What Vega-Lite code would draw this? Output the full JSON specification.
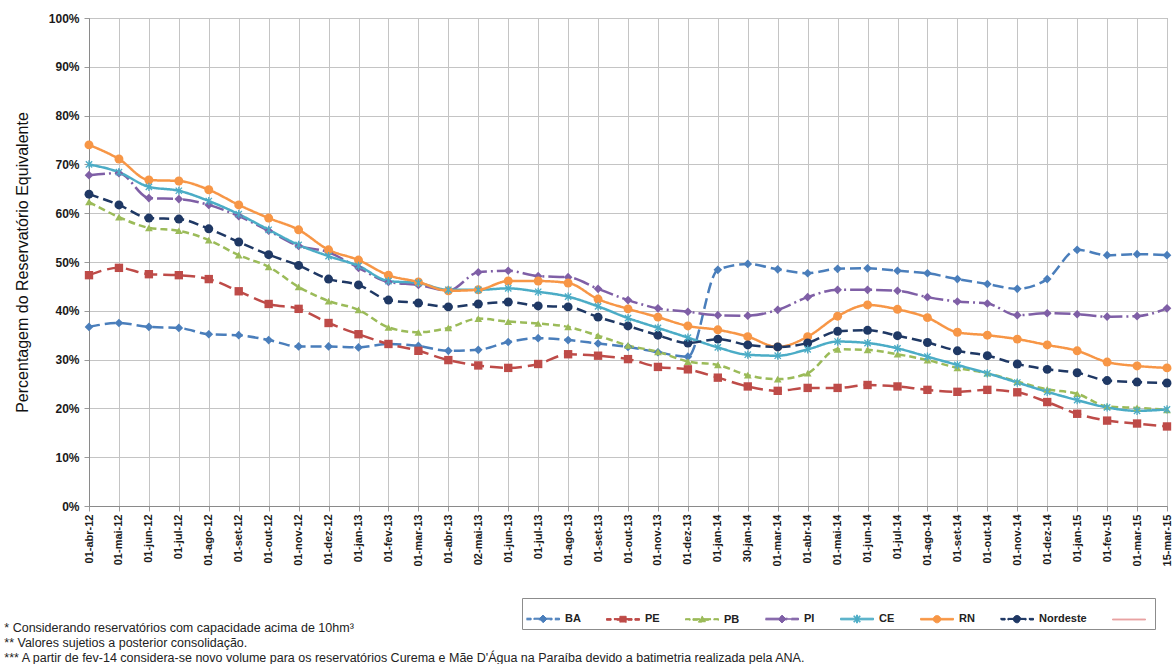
{
  "$schema": "https://vega.github.io/schema/vega-lite/v6.json",
  "width": 1078,
  "height": 488,
  "autosize": {"type": "none"},
  "padding": {"left": 89, "top": 18, "right": 8, "bottom": 158},
  "background": "white",
  "config": {
    "font": "Liberation Sans",
    "view": {"stroke": "#9a9a9a", "strokeWidth": 1}
  },
  "title": {
    "text": [
      "* Considerando reservatórios com capacidade acima de 10hm³",
      "** Valores sujetios a posterior consolidação.",
      "*** A partir de  fev-14 considera-se novo  volume para os reservatórios Curema e Mãe D'Água na Paraíba devido a batimetria realizada pela ANA."
    ],
    "orient": "bottom",
    "anchor": "start",
    "fontSize": 12.5,
    "fontWeight": "normal",
    "lineHeight": 15,
    "color": "#222222",
    "offset": -8,
    "dx": -10
  },
  "data": {
    "values": [
      {"d":"01-abr-12","s":"BA","v":36.7},{"d":"01-mai-12","s":"BA","v":37.5},{"d":"01-jun-12","s":"BA","v":36.7},{"d":"01-jul-12","s":"BA","v":36.5},{"d":"01-ago-12","s":"BA","v":35.2},{"d":"01-set-12","s":"BA","v":35.0},{"d":"01-out-12","s":"BA","v":34.0},{"d":"01-nov-12","s":"BA","v":32.7},{"d":"01-dez-12","s":"BA","v":32.7},{"d":"01-jan-13","s":"BA","v":32.5},{"d":"01-fev-13","s":"BA","v":33.2},{"d":"01-mar-13","s":"BA","v":32.8},{"d":"01-abr-13","s":"BA","v":31.8},{"d":"02-mai-13","s":"BA","v":32.0},{"d":"01-jun-13","s":"BA","v":33.6},{"d":"01-jul-13","s":"BA","v":34.4},{"d":"01-ago-13","s":"BA","v":34.0},{"d":"01-set-13","s":"BA","v":33.3},{"d":"01-out-13","s":"BA","v":32.6},{"d":"01-nov-13","s":"BA","v":31.5},{"d":"01-dez-13","s":"BA","v":30.6},{"d":"01-jan-14","s":"BA","v":48.4},{"d":"30-jan-14","s":"BA","v":49.6},{"d":"01-mar-14","s":"BA","v":48.5},{"d":"01-abr-14","s":"BA","v":47.7},{"d":"01-mai-14","s":"BA","v":48.6},{"d":"01-jun-14","s":"BA","v":48.7},{"d":"01-jul-14","s":"BA","v":48.2},{"d":"01-ago-14","s":"BA","v":47.7},{"d":"01-set-14","s":"BA","v":46.5},{"d":"01-out-14","s":"BA","v":45.5},{"d":"01-nov-14","s":"BA","v":44.5},{"d":"01-dez-14","s":"BA","v":46.5},{"d":"01-jan-15","s":"BA","v":52.5},{"d":"01-fev-15","s":"BA","v":51.4},{"d":"01-mar-15","s":"BA","v":51.6},{"d":"15-mar-15","s":"BA","v":51.4},
      {"d":"01-abr-12","s":"PE","v":47.3},{"d":"01-mai-12","s":"PE","v":48.8},{"d":"01-jun-12","s":"PE","v":47.5},{"d":"01-jul-12","s":"PE","v":47.3},{"d":"01-ago-12","s":"PE","v":46.5},{"d":"01-set-12","s":"PE","v":44.0},{"d":"01-out-12","s":"PE","v":41.4},{"d":"01-nov-12","s":"PE","v":40.4},{"d":"01-dez-12","s":"PE","v":37.5},{"d":"01-jan-13","s":"PE","v":35.2},{"d":"01-fev-13","s":"PE","v":33.2},{"d":"01-mar-13","s":"PE","v":31.8},{"d":"01-abr-13","s":"PE","v":29.9},{"d":"02-mai-13","s":"PE","v":28.8},{"d":"01-jun-13","s":"PE","v":28.3},{"d":"01-jul-13","s":"PE","v":29.1},{"d":"01-ago-13","s":"PE","v":31.1},{"d":"01-set-13","s":"PE","v":30.8},{"d":"01-out-13","s":"PE","v":30.1},{"d":"01-nov-13","s":"PE","v":28.5},{"d":"01-dez-13","s":"PE","v":28.0},{"d":"01-jan-14","s":"PE","v":26.3},{"d":"30-jan-14","s":"PE","v":24.5},{"d":"01-mar-14","s":"PE","v":23.6},{"d":"01-abr-14","s":"PE","v":24.2},{"d":"01-mai-14","s":"PE","v":24.2},{"d":"01-jun-14","s":"PE","v":24.8},{"d":"01-jul-14","s":"PE","v":24.5},{"d":"01-ago-14","s":"PE","v":23.8},{"d":"01-set-14","s":"PE","v":23.4},{"d":"01-out-14","s":"PE","v":23.8},{"d":"01-nov-14","s":"PE","v":23.3},{"d":"01-dez-14","s":"PE","v":21.3},{"d":"01-jan-15","s":"PE","v":18.9},{"d":"01-fev-15","s":"PE","v":17.5},{"d":"01-mar-15","s":"PE","v":16.9},{"d":"15-mar-15","s":"PE","v":16.3},
      {"d":"01-abr-12","s":"PB","v":62.3},{"d":"01-mai-12","s":"PB","v":59.2},{"d":"01-jun-12","s":"PB","v":57.0},{"d":"01-jul-12","s":"PB","v":56.4},{"d":"01-ago-12","s":"PB","v":54.5},{"d":"01-set-12","s":"PB","v":51.4},{"d":"01-out-12","s":"PB","v":49.0},{"d":"01-nov-12","s":"PB","v":44.9},{"d":"01-dez-12","s":"PB","v":42.0},{"d":"01-jan-13","s":"PB","v":40.2},{"d":"01-fev-13","s":"PB","v":36.6},{"d":"01-mar-13","s":"PB","v":35.6},{"d":"01-abr-13","s":"PB","v":36.5},{"d":"02-mai-13","s":"PB","v":38.4},{"d":"01-jun-13","s":"PB","v":37.8},{"d":"01-jul-13","s":"PB","v":37.4},{"d":"01-ago-13","s":"PB","v":36.7},{"d":"01-set-13","s":"PB","v":34.9},{"d":"01-out-13","s":"PB","v":32.9},{"d":"01-nov-13","s":"PB","v":31.6},{"d":"01-dez-13","s":"PB","v":29.6},{"d":"01-jan-14","s":"PB","v":28.9},{"d":"30-jan-14","s":"PB","v":26.8},{"d":"01-mar-14","s":"PB","v":26.0},{"d":"01-abr-14","s":"PB","v":27.2},{"d":"01-mai-14","s":"PB","v":32.1},{"d":"01-jun-14","s":"PB","v":32.0},{"d":"01-jul-14","s":"PB","v":31.1},{"d":"01-ago-14","s":"PB","v":29.9},{"d":"01-set-14","s":"PB","v":28.3},{"d":"01-out-14","s":"PB","v":27.2},{"d":"01-nov-14","s":"PB","v":25.5},{"d":"01-dez-14","s":"PB","v":23.9},{"d":"01-jan-15","s":"PB","v":23.0},{"d":"01-fev-15","s":"PB","v":20.4},{"d":"01-mar-15","s":"PB","v":20.1},{"d":"15-mar-15","s":"PB","v":19.7},
      {"d":"01-abr-12","s":"PI","v":67.8},{"d":"01-mai-12","s":"PI","v":68.2},{"d":"01-jun-12","s":"PI","v":63.1},{"d":"01-jul-12","s":"PI","v":62.9},{"d":"01-ago-12","s":"PI","v":61.7},{"d":"01-set-12","s":"PI","v":59.4},{"d":"01-out-12","s":"PI","v":56.4},{"d":"01-nov-12","s":"PI","v":53.3},{"d":"01-dez-12","s":"PI","v":52.0},{"d":"01-jan-13","s":"PI","v":48.8},{"d":"01-fev-13","s":"PI","v":45.9},{"d":"01-mar-13","s":"PI","v":45.3},{"d":"01-abr-13","s":"PI","v":44.1},{"d":"02-mai-13","s":"PI","v":47.9},{"d":"01-jun-13","s":"PI","v":48.2},{"d":"01-jul-13","s":"PI","v":47.1},{"d":"01-ago-13","s":"PI","v":46.9},{"d":"01-set-13","s":"PI","v":44.5},{"d":"01-out-13","s":"PI","v":42.2},{"d":"01-nov-13","s":"PI","v":40.5},{"d":"01-dez-13","s":"PI","v":39.8},{"d":"01-jan-14","s":"PI","v":39.1},{"d":"30-jan-14","s":"PI","v":39.0},{"d":"01-mar-14","s":"PI","v":40.2},{"d":"01-abr-14","s":"PI","v":42.8},{"d":"01-mai-14","s":"PI","v":44.3},{"d":"01-jun-14","s":"PI","v":44.3},{"d":"01-jul-14","s":"PI","v":44.1},{"d":"01-ago-14","s":"PI","v":42.8},{"d":"01-set-14","s":"PI","v":41.9},{"d":"01-out-14","s":"PI","v":41.5},{"d":"01-nov-14","s":"PI","v":39.1},{"d":"01-dez-14","s":"PI","v":39.5},{"d":"01-jan-15","s":"PI","v":39.3},{"d":"01-fev-15","s":"PI","v":38.8},{"d":"01-mar-15","s":"PI","v":38.9},{"d":"15-mar-15","s":"PI","v":40.5},
      {"d":"01-abr-12","s":"CE","v":70.0},{"d":"01-mai-12","s":"CE","v":68.4},{"d":"01-jun-12","s":"CE","v":65.4},{"d":"01-jul-12","s":"CE","v":64.6},{"d":"01-ago-12","s":"CE","v":62.5},{"d":"01-set-12","s":"CE","v":59.8},{"d":"01-out-12","s":"CE","v":56.6},{"d":"01-nov-12","s":"CE","v":53.5},{"d":"01-dez-12","s":"CE","v":51.2},{"d":"01-jan-13","s":"CE","v":49.2},{"d":"01-fev-13","s":"CE","v":46.1},{"d":"01-mar-13","s":"CE","v":45.7},{"d":"01-abr-13","s":"CE","v":44.3},{"d":"02-mai-13","s":"CE","v":44.3},{"d":"01-jun-13","s":"CE","v":44.6},{"d":"01-jul-13","s":"CE","v":43.9},{"d":"01-ago-13","s":"CE","v":42.9},{"d":"01-set-13","s":"CE","v":40.9},{"d":"01-out-13","s":"CE","v":38.5},{"d":"01-nov-13","s":"CE","v":36.5},{"d":"01-dez-13","s":"CE","v":34.5},{"d":"01-jan-14","s":"CE","v":32.5},{"d":"30-jan-14","s":"CE","v":31.0},{"d":"01-mar-14","s":"CE","v":30.8},{"d":"01-abr-14","s":"CE","v":32.1},{"d":"01-mai-14","s":"CE","v":33.7},{"d":"01-jun-14","s":"CE","v":33.4},{"d":"01-jul-14","s":"CE","v":32.3},{"d":"01-ago-14","s":"CE","v":30.6},{"d":"01-set-14","s":"CE","v":28.9},{"d":"01-out-14","s":"CE","v":27.2},{"d":"01-nov-14","s":"CE","v":25.3},{"d":"01-dez-14","s":"CE","v":23.4},{"d":"01-jan-15","s":"CE","v":21.7},{"d":"01-fev-15","s":"CE","v":20.2},{"d":"01-mar-15","s":"CE","v":19.5},{"d":"15-mar-15","s":"CE","v":19.8},
      {"d":"01-abr-12","s":"RN","v":74.0},{"d":"01-mai-12","s":"RN","v":71.1},{"d":"01-jun-12","s":"RN","v":66.8},{"d":"01-jul-12","s":"RN","v":66.6},{"d":"01-ago-12","s":"RN","v":64.8},{"d":"01-set-12","s":"RN","v":61.7},{"d":"01-out-12","s":"RN","v":59.0},{"d":"01-nov-12","s":"RN","v":56.6},{"d":"01-dez-12","s":"RN","v":52.5},{"d":"01-jan-13","s":"RN","v":50.4},{"d":"01-fev-13","s":"RN","v":47.3},{"d":"01-mar-13","s":"RN","v":45.9},{"d":"01-abr-13","s":"RN","v":44.1},{"d":"02-mai-13","s":"RN","v":44.3},{"d":"01-jun-13","s":"RN","v":46.1},{"d":"01-jul-13","s":"RN","v":46.1},{"d":"01-ago-13","s":"RN","v":45.7},{"d":"01-set-13","s":"RN","v":42.4},{"d":"01-out-13","s":"RN","v":40.4},{"d":"01-nov-13","s":"RN","v":38.7},{"d":"01-dez-13","s":"RN","v":36.9},{"d":"01-jan-14","s":"RN","v":36.1},{"d":"30-jan-14","s":"RN","v":34.7},{"d":"01-mar-14","s":"RN","v":32.6},{"d":"01-abr-14","s":"RN","v":34.7},{"d":"01-mai-14","s":"RN","v":38.9},{"d":"01-jun-14","s":"RN","v":41.2},{"d":"01-jul-14","s":"RN","v":40.3},{"d":"01-ago-14","s":"RN","v":38.6},{"d":"01-set-14","s":"RN","v":35.6},{"d":"01-out-14","s":"RN","v":35.0},{"d":"01-nov-14","s":"RN","v":34.2},{"d":"01-dez-14","s":"RN","v":33.0},{"d":"01-jan-15","s":"RN","v":31.8},{"d":"01-fev-15","s":"RN","v":29.5},{"d":"01-mar-15","s":"RN","v":28.7},{"d":"15-mar-15","s":"RN","v":28.3},
      {"d":"01-abr-12","s":"Nordeste","v":63.9},{"d":"01-mai-12","s":"Nordeste","v":61.7},{"d":"01-jun-12","s":"Nordeste","v":59.0},{"d":"01-jul-12","s":"Nordeste","v":58.8},{"d":"01-ago-12","s":"Nordeste","v":56.8},{"d":"01-set-12","s":"Nordeste","v":54.1},{"d":"01-out-12","s":"Nordeste","v":51.5},{"d":"01-nov-12","s":"Nordeste","v":49.3},{"d":"01-dez-12","s":"Nordeste","v":46.5},{"d":"01-jan-13","s":"Nordeste","v":45.3},{"d":"01-fev-13","s":"Nordeste","v":42.2},{"d":"01-mar-13","s":"Nordeste","v":41.6},{"d":"01-abr-13","s":"Nordeste","v":40.8},{"d":"02-mai-13","s":"Nordeste","v":41.4},{"d":"01-jun-13","s":"Nordeste","v":41.8},{"d":"01-jul-13","s":"Nordeste","v":41.0},{"d":"01-ago-13","s":"Nordeste","v":40.8},{"d":"01-set-13","s":"Nordeste","v":38.7},{"d":"01-out-13","s":"Nordeste","v":36.9},{"d":"01-nov-13","s":"Nordeste","v":35.0},{"d":"01-dez-13","s":"Nordeste","v":33.4},{"d":"01-jan-14","s":"Nordeste","v":34.2},{"d":"30-jan-14","s":"Nordeste","v":33.0},{"d":"01-mar-14","s":"Nordeste","v":32.6},{"d":"01-abr-14","s":"Nordeste","v":33.4},{"d":"01-mai-14","s":"Nordeste","v":35.8},{"d":"01-jun-14","s":"Nordeste","v":36.0},{"d":"01-jul-14","s":"Nordeste","v":34.9},{"d":"01-ago-14","s":"Nordeste","v":33.5},{"d":"01-set-14","s":"Nordeste","v":31.8},{"d":"01-out-14","s":"Nordeste","v":30.8},{"d":"01-nov-14","s":"Nordeste","v":29.1},{"d":"01-dez-14","s":"Nordeste","v":28.0},{"d":"01-jan-15","s":"Nordeste","v":27.3},{"d":"01-fev-15","s":"Nordeste","v":25.7},{"d":"01-mar-15","s":"Nordeste","v":25.4},{"d":"15-mar-15","s":"Nordeste","v":25.2}
    ]
  },
  "encoding": {
    "x": {
      "field": "d",
      "type": "ordinal",
      "sort": null,
      "scale": {"type": "point", "padding": 0},
      "axis": {
        "title": null,
        "labelAngle": -90,
        "labelFontSize": 11,
        "labelFontWeight": "bold",
        "labelColor": "#1a1a1a",
        "labelPadding": 3,
        "tickSize": 5,
        "tickColor": "#9a9a9a",
        "domainColor": "#8a8a8a",
        "grid": true,
        "gridColor": "#c4c4c4",
        "gridWidth": 1
      }
    },
    "y": {
      "field": "v",
      "type": "quantitative",
      "scale": {"domain": [0, 100], "nice": false},
      "axis": {
        "title": "Percentagem do Reservatório Equivalente",
        "titleFontSize": 16,
        "titleFontWeight": "normal",
        "titleColor": "#111111",
        "titlePadding": 18,
        "values": [0, 10, 20, 30, 40, 50, 60, 70, 80, 90, 100],
        "labelExpr": "datum.value + '%'",
        "labelFontSize": 12,
        "labelFontWeight": "bold",
        "labelColor": "#1a1a1a",
        "labelPadding": 5,
        "tickSize": 5,
        "tickColor": "#9a9a9a",
        "domainColor": "#8a8a8a",
        "grid": true,
        "gridColor": "#c4c4c4",
        "gridWidth": 1
      }
    },
    "color": {
      "field": "s",
      "type": "nominal",
      "scale": {
        "domain": ["BA", "PE", "PB", "PI", "CE", "RN", "Nordeste", " "],
        "range": ["#4a7ebb", "#be4b48", "#9bbb59", "#7f5fa6", "#4bacc6", "#f79646", "#1f3864", "#e8a3a3"]
      },
      "legend": {
        "orient": "none",
        "legendX": 433,
        "legendY": 580,
        "direction": "horizontal",
        "columns": 8,
        "title": null,
        "strokeColor": "#8c8c8c",
        "fillColor": "white",
        "padding": 4,
        "symbolSize": 1089,
        "symbolStrokeWidth": 1,
        "symbolOpacity": 1,
        "labelFontSize": 11,
        "labelFontWeight": "bold",
        "labelColor": "#222222",
        "labelOffset": 5,
        "columnPadding": 23
      }
    }
  },
  "layer": [
    {
      "mark": {"type": "line", "strokeWidth": 2.5, "interpolate": "monotone"},
      "encoding": {
        "strokeDash": {
          "field": "s",
          "type": "nominal",
          "scale": {
            "domain": ["BA", "PE", "PB", "PI", "CE", "RN", "Nordeste", " "],
            "range": [[11, 5], [13, 6], [7, 4], [16, 4, 2, 4], [1, 0], [1, 0], [10, 5], [1, 0]]
          },
          "legend": null
        }
      }
    },
    {
      "transform": [{"filter": {"field": "s", "oneOf": ["BA", "PI"]}}],
      "mark": {"type": "point", "filled": true, "shape": "diamond", "size": 75, "opacity": 1}
    },
    {
      "transform": [{"filter": {"field": "s", "equal": "PE"}}],
      "mark": {"type": "point", "filled": true, "shape": "square", "size": 70, "opacity": 1}
    },
    {
      "transform": [{"filter": {"field": "s", "equal": "PB"}}],
      "mark": {"type": "point", "filled": true, "shape": "triangle-up", "size": 60, "opacity": 1}
    },
    {
      "transform": [{"filter": {"field": "s", "oneOf": ["RN", "Nordeste"]}}],
      "mark": {"type": "point", "filled": true, "shape": "circle", "size": 80, "opacity": 1}
    },
    {
      "transform": [{"filter": {"field": "s", "equal": "CE"}}],
      "mark": {"type": "point", "filled": false, "shape": "M-1,-1L1,1M-1,1L1,-1M0,-1.3V1.3", "size": 40, "strokeWidth": 1.3, "opacity": 1}
    },
    {
      "transform": [{"filter": "datum.v < 0"}],
      "mark": {"type": "point", "filled": true, "opacity": 1},
      "encoding": {
        "shape": {
          "field": "s",
          "type": "nominal",
          "scale": {
            "domain": ["BA", "PE", "PB", "PI", "CE", "RN", "Nordeste", " "],
            "range": [
              "M-1,-0.05H-0.72V0.05H-1ZM-0.55,-0.05H-0.12V0.05H-0.55ZM0.12,-0.05H0.55V0.05H0.12ZM0.72,-0.05H1V0.05H0.72ZM0,-0.24L0.24,0L0,0.24L-0.24,0Z",
              "M-1,-0.05H-0.72V0.05H-1ZM-0.55,-0.05H-0.12V0.05H-0.55ZM0.12,-0.05H0.55V0.05H0.12ZM0.72,-0.05H1V0.05H0.72ZM-0.19,-0.19H0.19V0.19H-0.19Z",
              "M-1,-0.05H-0.72V0.05H-1ZM-0.55,-0.05H-0.12V0.05H-0.55ZM0.12,-0.05H0.55V0.05H0.12ZM0.72,-0.05H1V0.05H0.72ZM0,-0.22L0.22,0.16H-0.22Z",
              "M-1,-0.05H1V0.05H-1ZM0,-0.24L0.24,0L0,0.24L-0.24,0Z",
              "M-1,-0.05H1V0.05H-1ZM-0.2,-0.16L-0.16,-0.2L0.2,0.16L0.16,0.2ZM-0.2,0.16L0.16,-0.2L0.2,-0.16L-0.16,0.2ZM-0.03,-0.24H0.03V0.24H-0.03Z",
              "M-1,-0.05H1V0.05H-1ZM-0.22,0A0.22,0.22 0 1,1 0.22,0A0.22,0.22 0 1,1 -0.22,0Z",
              "M-1,-0.05H-0.72V0.05H-1ZM-0.55,-0.05H-0.12V0.05H-0.55ZM0.12,-0.05H0.55V0.05H0.12ZM0.72,-0.05H1V0.05H0.72ZM-0.22,0A0.22,0.22 0 1,1 0.22,0A0.22,0.22 0 1,1 -0.22,0Z",
              "M-1,-0.03H1V0.03H-1Z"
            ]
          },
          "legend": {
            "orient": "none",
            "legendX": 433,
            "legendY": 580,
            "direction": "horizontal",
            "columns": 8,
            "title": null,
            "strokeColor": "#8c8c8c",
            "fillColor": "white",
            "padding": 4,
            "symbolSize": 1089,
            "symbolStrokeWidth": 1,
            "symbolOpacity": 1,
            "labelFontSize": 11,
            "labelFontWeight": "bold",
            "labelColor": "#222222",
            "labelOffset": 5,
            "columnPadding": 23
          }
        }
      }
    }
  ]
}
